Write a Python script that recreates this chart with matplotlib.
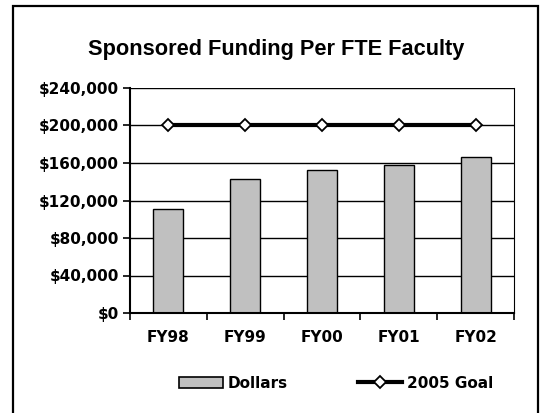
"""Sponsored funding per FTE faculty bar chart."""

import matplotlib
matplotlib.use("Agg")
import matplotlib.pyplot as plt
from matplotlib.patches import Rectangle
from matplotlib.lines import Line2D
from matplotlib.ticker import FuncFormatter, FixedLocator

plt.rcParams["font.family"] = ["DejaVu Sans"]
plt.rcParams["font.weight"] = "bold"

# Data.
YEARS = ["FY98", "FY99", "FY00", "FY01", "FY02"]
DOLLARS = [111000, 143000, 153000, 158000, 166000]
GOAL_2005 = [200000, 200000, 200000, 200000, 200000]
Y_TICKS = [0, 40000, 80000, 120000, 160000, 200000, 240000]

TITLE = "Sponsored Funding Per FTE Faculty"
W, H, DPI = 541, 413, 100
FONT_SIZE = 11


def _main() -> None:
    fig = plt.figure(figsize=(W / DPI, H / DPI), dpi=DPI)
    ax = fig.add_axes([130 / W, 1 - 313 / H, 384 / W, 225 / H])

    x = list(range(len(YEARS)))
    ax.set_axisbelow(True)
    ax.bar(x, DOLLARS, width=0.39, color="#c0c0c0",
           edgecolor="black", linewidth=1.0, zorder=2)
    ax.plot(x, GOAL_2005, color="black", linewidth=3,
            marker="D", markersize=6.5, markerfacecolor="white",
            markeredgecolor="black", markeredgewidth=1.3, zorder=3)

    ax.set_xlim(-0.5, len(YEARS) - 0.5)
    ax.set_ylim(0, 240000)
    ax.set_yticks(Y_TICKS)
    ax.yaxis.set_major_formatter(FuncFormatter(lambda v, _: f"${v:,.0f}"))
    ax.grid(axis="y", color="black", linewidth=1.0)

    ax.set_xticks(x)
    ax.set_xticklabels(YEARS)
    ax.xaxis.set_minor_locator(FixedLocator([i - 0.5 for i in range(len(YEARS) + 1)]))
    ax.tick_params(axis="x", which="major", length=0, pad=12, labelsize=FONT_SIZE)
    ax.tick_params(axis="x", which="minor", length=5, width=1.2, color="black")
    ax.tick_params(axis="y", length=5, width=1.2, labelsize=FONT_SIZE, pad=3)
    for lab in ax.get_xticklabels() + ax.get_yticklabels():
        lab.set_fontweight("bold")

    for side in ["left", "bottom"]:
        ax.spines[side].set_linewidth(1.5)
        ax.spines[side].set_color("black")
    ax.spines["right"].set_linewidth(0.8)
    ax.spines["top"].set_visible(False)

    fig.text(276.5 / W, 1 - 50 / H, TITLE, ha="center", va="center",
             fontsize=15.7, fontweight="bold", family="Liberation Sans")

    handles = [Rectangle((0, 0), 1, 1, facecolor="#c0c0c0",
                         edgecolor="black", linewidth=1.2),
               Line2D([], [], color="black", linewidth=3, marker="D",
                      markersize=6.5, markerfacecolor="white",
                      markeredgecolor="black", markeredgewidth=1.3)]
    fig.legend(handles, ["Dollars", "2005 Goal"], loc="center",
               bbox_to_anchor=(336 / W, 1 - 383 / H), ncol=2, frameon=False,
               prop={"size": FONT_SIZE, "weight": "bold"}, handlelength=2.9,
               handletextpad=0.3, columnspacing=4.6)

    fig.patches.append(Rectangle((13 / W, -0.05), 525 / W, 1.05 - 5.7 / H,
                                 transform=fig.transFigure, fill=False,
                                 edgecolor="black", linewidth=1.6))

    fig.savefig("out.png", dpi=DPI)


if __name__ == "__main__":
    _main()
